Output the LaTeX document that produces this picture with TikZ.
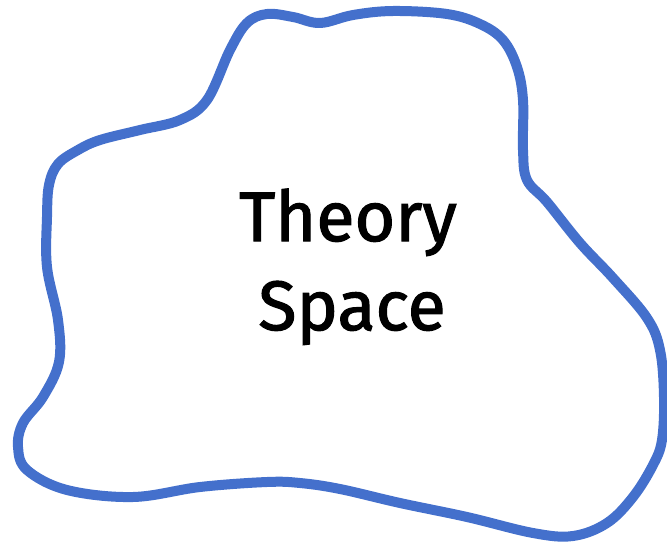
\documentclass[tikz,border=0pt]{standalone}
\usepackage{fontspec}
\setmainfont{Fira Sans}
\newfontfamily\handfont{Fira Sans}[FakeBold=1.6]
\definecolor{blobblue}{RGB}{68,112,204}
\begin{document}
\begin{tikzpicture}[x=1pt,y=-1pt,
  blob/.style={draw=blobblue,line width=10pt,line join=round,line cap=round},
  label/.style={font=\fontsize{70}{80}\handfont,text=black,inner sep=0pt,anchor=base}]
\useasboundingbox (0,0) rectangle (667,546);
\draw[blob] plot[smooth cycle,tension=0.6] coordinates {
 (247,23) (267,14) (293,17) (320,23) (353,15) (393,11) (447,14) (480,24)
 (503,40) (517,67) (523,100) (523,150) (527,180) (547,202) (580,243)
 (613,278) (647,318) (660,350) (664,397) (662,440) (653,465) (633,497)
 (607,523) (573,536) (533,533) (467,517) (400,503) (340,489) (300,483)
 (267,482) (200,487) (133,497) (67,490) (27,470) (18,447) (23,423)
 (43,397) (59,362) (58,320) (47,267) (47,217) (49,185) (58,164) (78,150)
 (100,140) (140,130) (180,120) (207,100) (230,50)};
\node[label] (theory) at (348,241) {Theory};
\node[label] (space) at (352,330) {Space};
\end{tikzpicture}
\end{document}
